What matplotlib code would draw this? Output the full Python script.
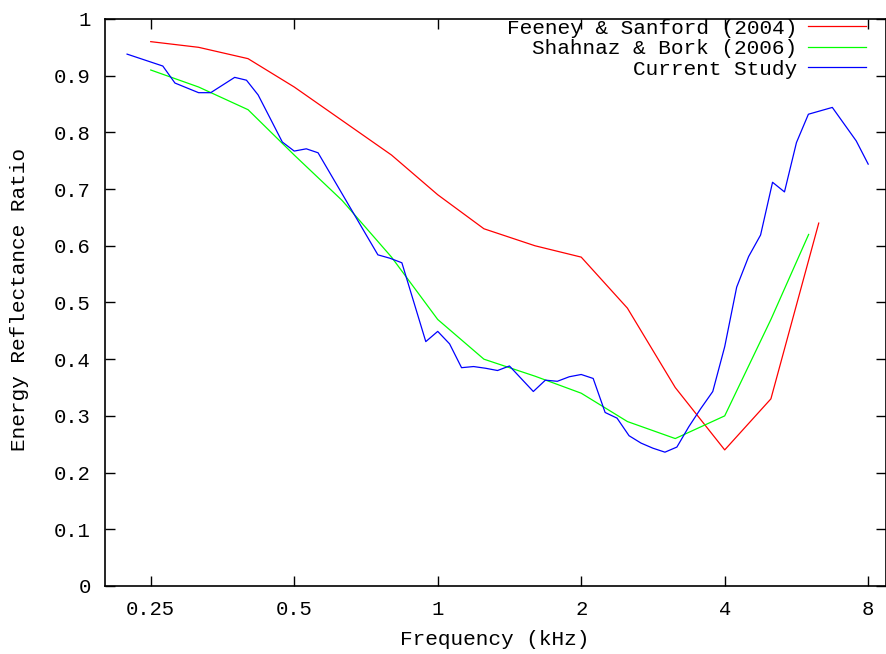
import matplotlib
matplotlib.use("Agg")
import matplotlib.pyplot as plt
from matplotlib.ticker import FixedLocator, FixedFormatter, NullLocator

# Feeney & Sanford (2004)
fs_freq = [0.25, 0.315, 0.4, 0.5, 0.8, 1.0, 1.25, 1.6, 2.0, 2.5, 3.15, 4.0, 5.0, 6.3]
fs_err = [0.96, 0.95, 0.93, 0.88, 0.76, 0.69, 0.63, 0.60, 0.58, 0.49, 0.35, 0.24, 0.33, 0.64]

# Shahnaz & Bork (2006)
sb_freq = [0.25, 0.315, 0.4, 0.5, 0.63, 0.8, 1.0, 1.25, 1.6, 2.0, 2.5, 3.15, 4.0, 5.0, 6.0]
sb_err = [0.91, 0.88, 0.84, 0.76, 0.68, 0.58, 0.47, 0.40, 0.37, 0.34, 0.29, 0.26, 0.30, 0.47, 0.62]

# Current Study
cs_freq = [0.223, 0.265, 0.281, 0.315, 0.334, 0.375, 0.397, 0.420, 0.445, 0.472,
           0.500, 0.530, 0.561, 0.749, 0.794, 0.841, 0.944, 1.000, 1.059, 1.122,
           1.189, 1.260, 1.335, 1.414, 1.587, 1.682, 1.782, 1.888, 2.000, 2.119,
           2.245, 2.378, 2.520, 2.670, 2.828, 2.997, 3.175, 3.364, 3.564, 3.776,
           4.000, 4.238, 4.490, 4.757, 5.040, 5.339, 5.657, 5.993, 6.727, 7.550, 8.000]
cs_err = [0.938, 0.917, 0.887, 0.870, 0.870, 0.897, 0.892, 0.866, 0.825, 0.783,
          0.767, 0.771, 0.764, 0.584, 0.578, 0.570, 0.431, 0.449, 0.427, 0.385,
          0.387, 0.384, 0.380, 0.388, 0.343, 0.363, 0.361, 0.369, 0.373, 0.366,
          0.306, 0.296, 0.265, 0.252, 0.243, 0.236, 0.245, 0.281, 0.313, 0.343,
          0.422, 0.527, 0.581, 0.619, 0.712, 0.695, 0.782, 0.832, 0.844, 0.785, 0.744]

x_ticks = [0.25, 0.5, 1, 2, 4, 8]
x_tick_labels = ["0.25", "0.5", "1", "2", "4", "8"]
y_ticks = [0, 0.1, 0.2, 0.3, 0.4, 0.5, 0.6, 0.7, 0.8, 0.9, 1.0]
y_tick_labels = ["0", "0.1", "0.2", "0.3", "0.4", "0.5", "0.6", "0.7", "0.8", "0.9", "1"]

plt.rcParams["font.family"] = ["Liberation Mono", "DejaVu Sans Mono"]
plt.rcParams["font.size"] = 15.2

fig = plt.figure(figsize=(8.86, 6.54), dpi=100)
ax = fig.add_axes([0.118, 0.104, 0.8815, 0.867])

ax.plot(fs_freq, fs_err, color="#ff0000", lw=0.9, label="Feeney & Sanford (2004)")
ax.plot(sb_freq, sb_err, color="#00ff00", lw=0.9, label="Shahnaz & Bork (2006)")
ax.plot(cs_freq, cs_err, color="#0000ff", lw=0.9, label="Current Study")

ax.set_xscale("log")
ax.set_xlim(0.2, 8.7)
ax.set_ylim(0, 1)
ax.xaxis.set_major_locator(FixedLocator(x_ticks))
ax.xaxis.set_major_formatter(FixedFormatter(x_tick_labels))
ax.xaxis.set_minor_locator(NullLocator())
ax.yaxis.set_major_locator(FixedLocator(y_ticks))
ax.yaxis.set_major_formatter(FixedFormatter(y_tick_labels))

ax.tick_params(direction="in", length=7, width=1, top=True, right=True,
               labelsize=14.8, colors="black", pad=10)
for s in ax.spines.values():
    s.set_linewidth(1.2)

ax.set_xlabel("Frequency (kHz)", labelpad=8)
ax.set_ylabel("Energy Reflectance Ratio")
ax.yaxis.set_label_coords(-0.097, 0.505)

ax.legend(loc="upper right", bbox_to_anchor=(0.976, 1.002), frameon=False,
          markerfirst=False, handlelength=2.75, handletextpad=0.5,
          labelspacing=0.07, borderpad=0.05, borderaxespad=0.0)

fig.savefig("out.png", dpi=100)
